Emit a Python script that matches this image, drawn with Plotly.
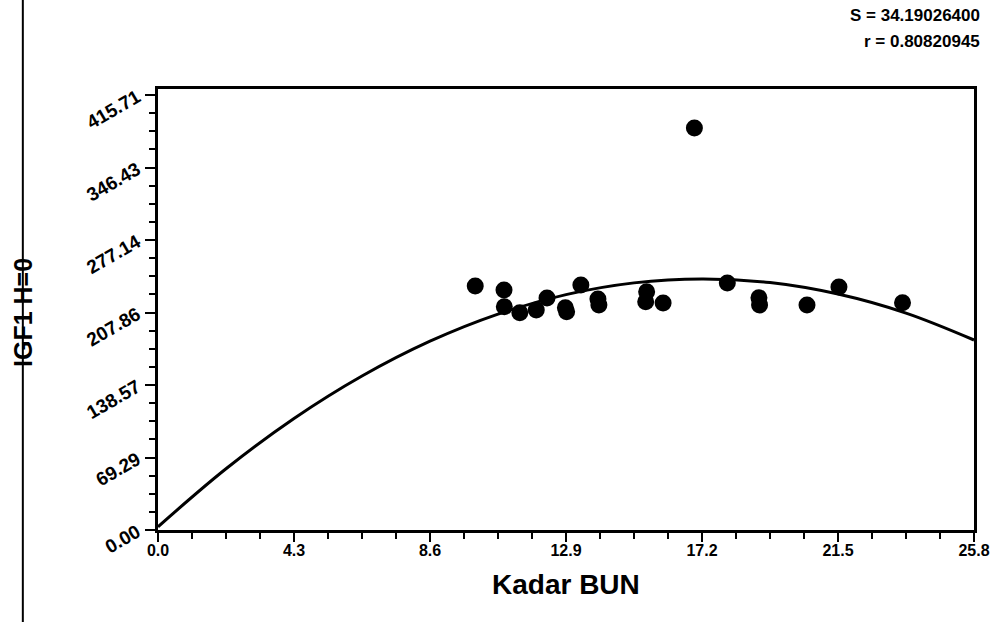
import plotly.graph_objects as go
import numpy as np

# Observed data points (Kadar BUN vs IGF1 H=0)
bun = [10.03, 10.94, 10.95, 11.44, 11.96, 12.30, 12.88, 12.92, 13.37, 13.91, 13.94,
       15.45, 15.42, 15.97, 16.96, 18.00, 19.00, 19.02, 20.52, 21.53, 23.54]
igf = [233.2, 229.4, 213.4, 207.7, 210.2, 221.7, 212.5, 208.5, 234.1, 220.8, 215.0,
       227.7, 218.2, 216.9, 384.2, 236.0, 222.0, 215.0, 215.0, 232.2, 217.2]

# Fitted curve
curve_x = [0.0, 2.15, 4.3, 6.45, 8.6, 10.75, 12.9, 15.05, 17.2, 19.35, 21.5, 23.65, 25.8]
curve_y = [3.1, 58.5, 106.6, 147.2, 180.5, 206.4, 225.0, 236.2, 240.0, 236.5, 225.5, 207.3, 181.6]

x_tick_labels = ["0.0", "4.3", "8.6", "12.9", "17.2", "21.5", "25.8"]
y_tick_labels = ["0.00", "69.29", "138.57", "207.86", "277.14", "346.43", "415.71"]

stat_s = "S = 34.19026400"
stat_r = "r = 0.80820945"

FONT = "Liberation Sans"

x_vals = [float(v) for v in x_tick_labels]
y_vals = [float(v) for v in y_tick_labels]
x_minor = list(np.arange(0, 25.8 + 1e-6, 25.8 / 24))
y_minor = list(np.arange(0, 421, 415.71 / 24))

fig = go.Figure()
fig.add_trace(go.Scatter(x=curve_x, y=curve_y, mode="lines", line=dict(color="black", width=3, shape="spline"),
                         showlegend=False, hoverinfo="skip"))
fig.add_trace(go.Scatter(x=bun, y=igf, mode="markers", marker=dict(color="black", size=17),
                         showlegend=False))

xtickfont = dict(family=FONT, size=16, color="black", weight="bold")
ytickfont = dict(family=FONT, size=19, color="black", weight="bold")

fig.update_layout(
    width=1002, height=622,
    margin=dict(l=158, r=23, t=89, b=92),
    paper_bgcolor="white", plot_bgcolor="white",
    xaxis=dict(range=[0, 25.8], tickmode="array", tickvals=x_vals, ticktext=x_tick_labels,
               ticks="outside", ticklen=9, tickwidth=2, tickcolor="black", ticklabelstandoff=-5,
               minor=dict(tickmode="array", tickvals=x_minor, ticks="outside", ticklen=6, tickwidth=2, tickcolor="black"),
               showline=True, linewidth=3, linecolor="black", mirror=True,
               showgrid=False, zeroline=False, tickfont=xtickfont),
    yaxis=dict(range=[0, 421.5], tickmode="array", tickvals=y_vals, ticktext=y_tick_labels,
               ticks="outside", ticklen=10, tickwidth=2, tickcolor="black", tickangle=-30,
               ticklabelstandoff=4,
               minor=dict(tickmode="array", tickvals=y_minor, ticks="outside", ticklen=6, tickwidth=2, tickcolor="black"),
               showline=True, linewidth=3, linecolor="black", mirror=True,
               showgrid=False, zeroline=False, tickfont=ytickfont),
    annotations=[
        dict(text="Kadar BUN", xref="paper", yref="paper", x=0.5, y=(530 - 584) / 441,
             xanchor="center", yanchor="middle", showarrow=False,
             font=dict(family=FONT, size=28, color="black", weight="bold")),
        dict(text="IGF1 H=0", xref="paper", yref="paper", x=(22 - 158) / 821, y=0.494,
             xanchor="center", yanchor="middle", showarrow=False, textangle=-90,
             font=dict(family=FONT, size=25, color="black", weight="bold")),
        dict(text=stat_s, xref="paper", yref="paper", x=1.0, y=(530 - 16) / 441, xshift=8,
             xanchor="right", yanchor="middle", showarrow=False,
             font=dict(family=FONT, size=17, color="black", weight="bold")),
        dict(text=stat_r, xref="paper", yref="paper", x=1.0, y=(530 - 41) / 441, xshift=8,
             xanchor="right", yanchor="middle", showarrow=False,
             font=dict(family=FONT, size=17, color="black", weight="bold")),
    ],
    shapes=[
        dict(type="line", xref="paper", yref="paper", x0=(22 - 158) / 821, x1=(22 - 158) / 821,
             y0=-92 / 441, y1=530 / 441, line=dict(color="black", width=2), layer="below"),
    ],
)

fig.write_html("out.html", config={"displayModeBar": False},
               post_script="document.body.style.margin='0';document.body.style.padding='0';")
